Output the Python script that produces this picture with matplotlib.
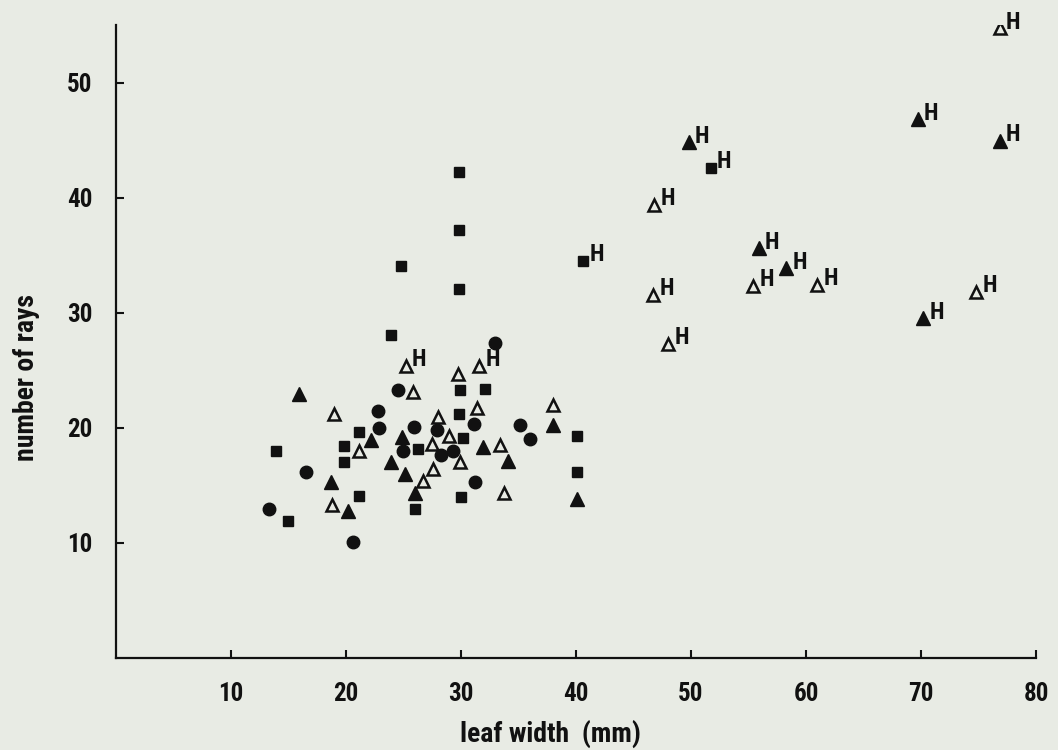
import matplotlib
matplotlib.use("Agg")
import matplotlib.pyplot as plt
from matplotlib import font_manager

# pick a narrow face if one is there, the scan uses a condensed stencil type
installed = set(f.name for f in font_manager.fontManager.ttflist)
face = "DejaVu Sans"
for name in ["DejaVu Sans Condensed", "Liberation Sans Narrow", "Roboto Condensed"]:
    if name in installed:
        face = name
        break
plt.rcParams["font.family"] = [face, "DejaVu Sans"]
plt.rcParams["font.weight"] = "bold"
plt.rcParams["axes.labelweight"] = "bold"

# filled circles
circ_x = [24.5, 22.8, 22.9, 25.9, 25.0, 16.5, 13.3, 20.6, 33.0, 27.9, 31.1, 35.1, 36.0, 29.3, 28.25, 31.2]
circ_y = [23.3, 21.5, 20.0, 20.1, 18.0, 16.2, 12.95, 10.1, 27.4, 19.8, 20.3, 20.2, 19.0, 18.0, 17.6, 15.3]

# filled squares
sq_x = [23.9, 21.1, 13.9, 19.8, 26.3, 19.8, 21.1, 26.0, 15.0, 29.85, 29.8, 24.8, 29.85,
        29.9, 32.1, 29.8, 40.1, 30.2, 30.0, 40.1]
sq_y = [28.1, 19.6, 17.95, 18.4, 18.2, 17.0, 14.1, 12.95, 11.9, 42.2, 37.2, 34.1, 32.1,
        23.3, 23.4, 21.2, 19.3, 19.15, 14.0, 16.2]
sq_h_x = [40.6, 51.7]
sq_h_y = [34.5, 42.6]

# filled triangles
ftri_x = [15.9, 22.2, 24.9, 23.9, 25.1, 18.7, 26.0, 20.2, 38.0, 31.9, 34.1, 40.1]
ftri_y = [22.9, 18.9, 19.2, 17.0, 16.0, 15.3, 14.3, 12.8, 20.2, 18.3, 17.1, 13.8]
ftri_h_x = [49.8, 69.7, 76.85, 55.9, 58.3, 70.2]
ftri_h_y = [44.8, 46.8, 44.9, 35.6, 33.85, 29.5]

# open triangles
otri_x = [25.8, 19.0, 21.1, 26.7, 18.8, 29.7, 38.0, 31.4, 28.0, 29.0, 27.5, 33.4, 29.9, 27.6, 33.7]
otri_y = [23.1, 21.2, 18.0, 15.4, 13.3, 24.7, 22.0, 21.7, 20.9, 19.3, 18.6, 18.5, 17.0, 16.4, 14.3]
otri_h_x = [25.2, 31.6, 76.85, 46.8, 55.4, 61.0, 46.7, 74.8, 48.0]
otri_h_y = [25.4, 25.4, 54.7, 39.4, 32.3, 32.4, 31.55, 31.8, 27.3]

xticks = [10, 20, 30, 40, 50, 60, 70, 80]
yticks = [10, 20, 30, 40, 50]

paper = "#e8ebe4"
ink = "#111111"

fig = plt.figure(figsize=(10.58, 7.5), dpi=100, facecolor=paper)
ax = fig.add_axes([0.1096, 0.1227, 0.8696, 0.844])
ax.set_facecolor(paper)

ax.plot(circ_x, circ_y, "o", ms=9, color=ink, mec=ink)
ax.plot(sq_x + sq_h_x, sq_y + sq_h_y, "s", ms=7, color=ink, mec=ink)
ax.plot(ftri_x + ftri_h_x, ftri_y + ftri_h_y, "^", ms=9.5, color=ink, mec=ink)
ax.plot(otri_x + otri_h_x, otri_y + otri_h_y, "^", ms=9, mfc="none", mec=ink, mew=1.8)

# hybrids are tagged with an H beside the symbol
for hx, hy in zip(sq_h_x + ftri_h_x + otri_h_x, sq_h_y + ftri_h_y + otri_h_y):
    ax.annotate("H", (hx, hy), xytext=(4.5, 4.5), textcoords="offset points",
                ha="left", va="center", fontsize=17, color=ink)

ax.set_xlim(0, 80)
ax.set_ylim(0, 55)
ax.set_xticks(xticks)
ax.set_yticks(yticks)
ax.spines["top"].set_visible(False)
ax.spines["right"].set_visible(False)
for s in ["left", "bottom"]:
    ax.spines[s].set_linewidth(1.6)
    ax.spines[s].set_color(ink)
ax.tick_params(direction="in", length=6, width=1.5, color=ink, labelsize=18,
               labelcolor=ink, pad=17)

ax.set_xlabel("leaf width  (mm)", fontsize=20, color=ink, va="center")
ax.set_ylabel("number of rays", fontsize=20, color=ink, va="center")
ax.xaxis.set_label_coords(0.472, -0.12)
ax.yaxis.set_label_coords(-0.097, 0.443)

fig.savefig("out.png", dpi=100, facecolor=paper)
